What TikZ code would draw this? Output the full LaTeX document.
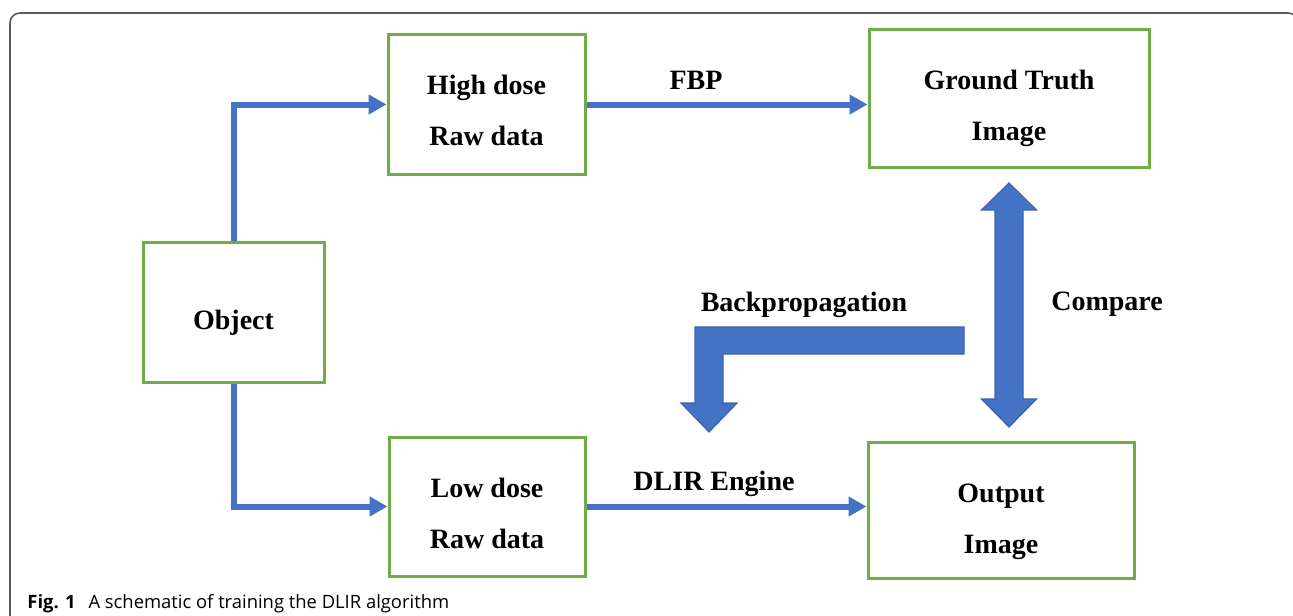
\documentclass[tikz,border=0pt]{standalone}
\usepackage{fontspec}
\setmainfont{Liberation Serif}
\newfontfamily\capfont{Open Sans}
\usepackage{xcolor}
\usetikzlibrary{positioning, arrows.meta, calc}

\definecolor{boxgreen}{HTML}{70AD47}
\definecolor{flowblue}{HTML}{4472C4}
\definecolor{flowedge}{HTML}{3B64AD}
\definecolor{framegray}{HTML}{5A5A5A}

% invisible strut to push box text a little down
\newcommand{\padtop}[1]{\rule{0pt}{#1}}

\begin{document}
\begin{tikzpicture}[
    x=0.5pt, y=-0.5pt,
    >={Triangle[length=9pt, width=9.5pt]},
    box/.style={draw=boxgreen, line width=1.5pt, align=center, inner sep=0pt,
        font=\bfseries\fontsize{14}{25.5}\selectfont},
    flow/.style={->, draw=flowblue, line width=3pt},
    tag/.style={anchor=base, inner sep=0pt, font=\bfseries\fontsize{14}{17}\selectfont},
    bigarrow/.style={fill=flowblue, draw=flowedge, line width=0.6pt, line join=miter}
]
    \useasboundingbox (0,0) rectangle (1293,615);

    % Outer frame of the figure
    \draw[framegray, line width=0.8pt, rounded corners=5pt]
        (10,640) -- (10,13) -- (1298,13) -- (1298,640);

    % Boxes
    \node[box, minimum width=90.5pt, minimum height=70pt]  (obj) at (233.5,312)  {\padtop{20.5pt}Object};
    \node[box, minimum width=98.5pt, minimum height=69.5pt] (hd)  at (486.5,104.5) {\padtop{15.6pt}High dose\\Raw data};
    \node[box, minimum width=98pt,   minimum height=69.5pt] (ld)  at (487,506.5)  {\padtop{16.6pt}Low dose\\Raw data};
    \node[box, minimum width=140pt,  minimum height=68.5pt] (gt)  at (1009,98.5)  {\padtop{19.6pt}Ground Truth\\Image};
    \node[box, minimum width=133pt,  minimum height=68pt]   (out) at (1001,510)   {\padtop{20.6pt}Output\\Image};

    % Thin arrows
    \draw[flow] (obj.north) |- (hd.west);
    \draw[flow] (obj.south) |- (ld.west);
    \draw[flow] (hd.east) -- (hd.east -| gt.west);
    \draw[flow] (ld.east) -- (ld.east -| out.west);

    % Arrow labels
    \node[tag] (fbp)  at (696,90)   {FBP};
    \node[tag] (dlir) at (714,490)  {DLIR Engine};
    \node[tag] (bp)   at (804,311)  {Backpropagation};
    \node[tag] (cmp)  at (1107,310) {Compare};

    % Block arrows
    \draw[bigarrow] (1009,183) -- (1036.5,210) -- (1023,210) -- (1023,399)
        -- (1036.5,399) -- (1009,427) -- (981.5,399) -- (995,399)
        -- (995,210) -- (981.5,210) -- cycle;
    \draw[bigarrow] (964,327) -- (964,354) -- (723,354) -- (723,403)
        -- (737,403) -- (709,432) -- (681,403) -- (695,403) -- (695,327) -- cycle;

    % Caption
    \node[anchor=base west, inner sep=0pt, font=\capfont\fontsize{9.2}{11}\selectfont] (cap) at (27,608)
        {\textbf{Fig. 1}\hspace{0.7em}A schematic of training the DLIR algorithm};
\end{tikzpicture}
\end{document}
